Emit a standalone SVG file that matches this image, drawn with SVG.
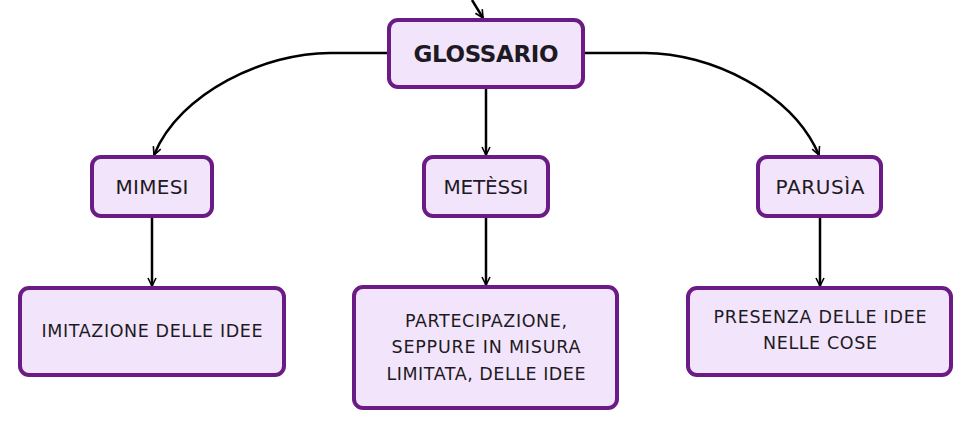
<svg xmlns="http://www.w3.org/2000/svg" width="972" height="429" viewBox="0 0 972 429">
<style>
.box{fill:#f2e5fb;stroke:#6a1b86;stroke-width:4}
.t{font-family:"DejaVu Sans","Open Sans",sans-serif;fill:#1e1a24;text-anchor:middle;dominant-baseline:central}
.n{font-size:20px}
.l{font-size:17.5px}
.b{font-size:23px;font-weight:bold}
.c{fill:none;stroke:#000;stroke-width:2.5}
</style>
<defs>
<marker id="ar" viewBox="0 0 10 10" refX="9" refY="5" markerWidth="10" markerHeight="10" markerUnits="userSpaceOnUse" orient="auto">
<path d="M1,1 L9,5 L1,9" fill="none" stroke="#000" stroke-width="1.6"/>
</marker>
</defs>
<rect width="972" height="429" fill="#fff"/>
<g id="connectors">
<path class="c" d="M472,0 L483,18" marker-end="url(#ar)"/>
<path class="c" d="M389,53 L330,53 C265,53 180,92 154,155" marker-end="url(#ar)"/>
<path class="c" d="M486,88 L486,155" marker-end="url(#ar)"/>
<path class="c" d="M583,53 L645,53 C710,53 792,92 819,155" marker-end="url(#ar)"/>
<path class="c" d="M152,218 L152,286" marker-end="url(#ar)"/>
<path class="c" d="M486,218 L486,285" marker-end="url(#ar)"/>
<path class="c" d="M820,218 L820,286" marker-end="url(#ar)"/>
</g>
<g id="glossario">
<rect class="box" x="389" y="20" width="194" height="67" rx="9"/>
<text class="t b" x="486" y="54" textLength="145">GLOSSARIO</text>
</g>
<g id="mimesi">
<rect class="box" x="92" y="157" width="120" height="59" rx="9"/>
<text class="t n" x="152" y="187" textLength="73">MIMESI</text>
</g>
<g id="metessi">
<rect class="box" x="424" y="157" width="124" height="59" rx="9"/>
<text class="t n" x="486" y="187" textLength="85">METÈSSI</text>
</g>
<g id="parusia">
<rect class="box" x="758" y="157" width="123" height="59" rx="9"/>
<text class="t n" x="820" y="187" textLength="89">PARUSÌA</text>
</g>
<g id="imitazione">
<rect class="box" x="20" y="288" width="264" height="87" rx="9"/>
<text class="t l" x="152" y="331" textLength="221">IMITAZIONE DELLE IDEE</text>
</g>
<g id="partecipazione">
<rect class="box" x="354" y="287" width="263" height="121" rx="9"/>
<text class="t l" x="486" y="321" textLength="162">PARTECIPAZIONE,</text>
<text class="t l" x="486" y="347" textLength="189">SEPPURE IN MISURA</text>
<text class="t l" x="486" y="374" textLength="199">LIMITATA, DELLE IDEE</text>
</g>
<g id="presenza">
<rect class="box" x="688" y="288" width="263" height="87" rx="9"/>
<text class="t l" x="820" y="317" textLength="213">PRESENZA DELLE IDEE</text>
<text class="t l" x="820" y="343" textLength="114">NELLE COSE</text>
</g>
</svg>
